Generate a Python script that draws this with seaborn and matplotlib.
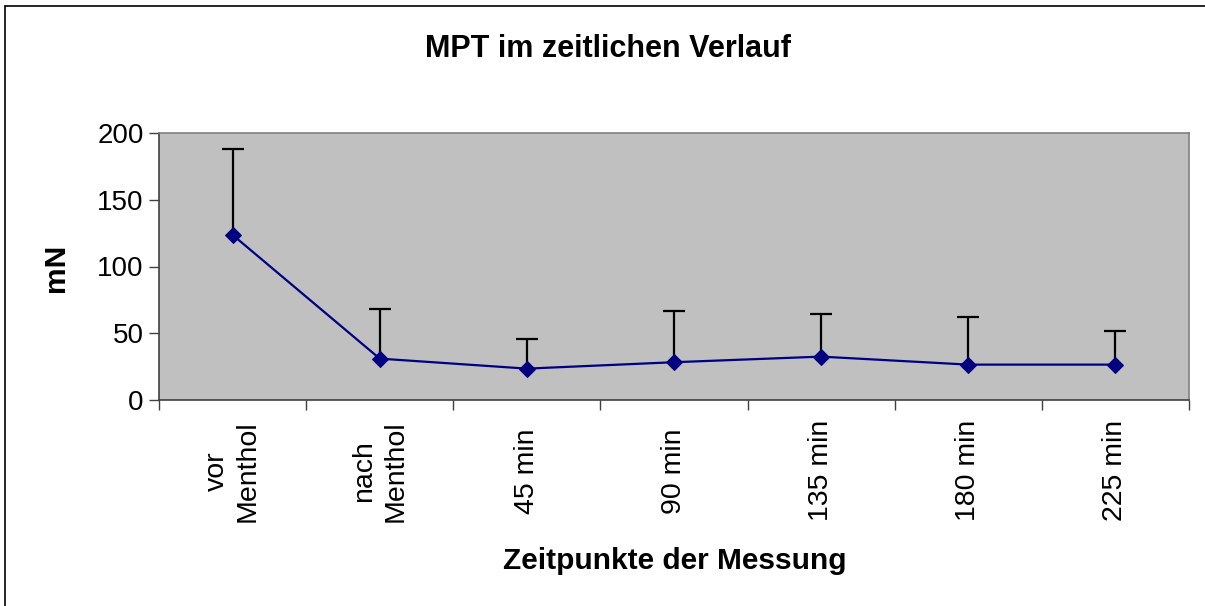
import matplotlib
matplotlib.use("Agg")
import matplotlib.pyplot as plt
import seaborn as sns
import pandas as pd
from matplotlib.lines import Line2D

categories = ["vor\nMenthol", "nach\nMenthol", "45 min", "90 min", "135 min", "180 min", "225 min"]
means = [123.7, 31.0, 23.5, 28.3, 32.5, 26.5, 26.5]
sd_upper = [64.5, 37.2, 22.5, 38.7, 31.8, 36.0, 25.5]

sns.set_theme(style="white")
plt.rcParams['font.family'] = ['Liberation Sans', 'DejaVu Sans']
plt.rcParams['text.color'] = 'black'
plt.rcParams['xtick.color'] = 'black'
plt.rcParams['ytick.color'] = 'black'

fig = plt.figure(figsize=(12.05, 6.06), dpi=100)
ax = fig.add_axes([159/1205, 1 - 400/606, 1030/1205, 267/606])
ax.set_facecolor("#C0C0C0")

df = pd.DataFrame({"Zeitpunkt": categories, "MPT": means})
x = list(range(len(categories)))
eb = ax.errorbar(x, means, yerr=[[0]*len(means), sd_upper], fmt="none",
                 ecolor="black", elinewidth=1.6, capsize=8, capthick=1.6, zorder=2)
eb[1][0].set_visible(False)  # hide lower caps (upper error only)
sns.lineplot(data=df, x="Zeitpunkt", y="MPT", ax=ax, color="#000080",
             marker="D", markersize=8.5, markeredgecolor="#000080",
             linewidth=1.6, sort=False, zorder=3)

ax.set_xlim(-0.5, len(categories) - 0.5)
ax.set_ylim(0, 200)
ax.set_yticks([0, 50, 100, 150, 200])
ax.tick_params(axis="y", which="major", direction="out", length=7, width=1,
               color="#404040", labelsize=20, left=True, pad=4, labelcolor="black")
ax.set_xticks(x)
ax.set_xticklabels(categories, rotation=90, fontsize=20.5, multialignment="center",
                   color="black")
ax.tick_params(axis="x", which="major", length=0, pad=51)
for lab in ax.get_xticklabels():
    lab.set_va("center")
    lab.set_linespacing(1.25)
ax.set_xticks([i - 0.5 for i in range(len(categories) + 1)], minor=True)
ax.tick_params(axis="x", which="minor", direction="out", length=7, width=1,
               color="#404040", bottom=True)

for s in ["top", "right"]:
    ax.spines[s].set_color("#808080")
    ax.spines[s].set_linewidth(1.2)
for s in ["left", "bottom"]:
    ax.spines[s].set_color("#404040")
    ax.spines[s].set_linewidth(1.2)

ax.set_xlabel("")
ax.set_ylabel("")
fig.text(608/1205, 1 - 49/606, "MPT im zeitlichen Verlauf", ha="center", va="center",
         fontsize=22, fontweight="bold", color="black")
fig.text(675/1205, 1 - 561/606, "Zeitpunkte der Messung", ha="center", va="center",
         fontsize=21.5, fontweight="bold", color="black")
fig.text(56/1205, 1 - 268/606, "mN", ha="center", va="center", rotation=90,
         fontsize=21.5, fontweight="bold", color="black")

# outer chart border (left and top visible)
fig.add_artist(Line2D([5/1205, 5/1205], [0, 1 - 6/606], color="black", lw=1.2,
                      transform=fig.transFigure))
fig.add_artist(Line2D([5/1205, 1], [1 - 6/606, 1 - 6/606], color="black", lw=1.2,
                      transform=fig.transFigure))

fig.savefig("out.png", dpi=100)
